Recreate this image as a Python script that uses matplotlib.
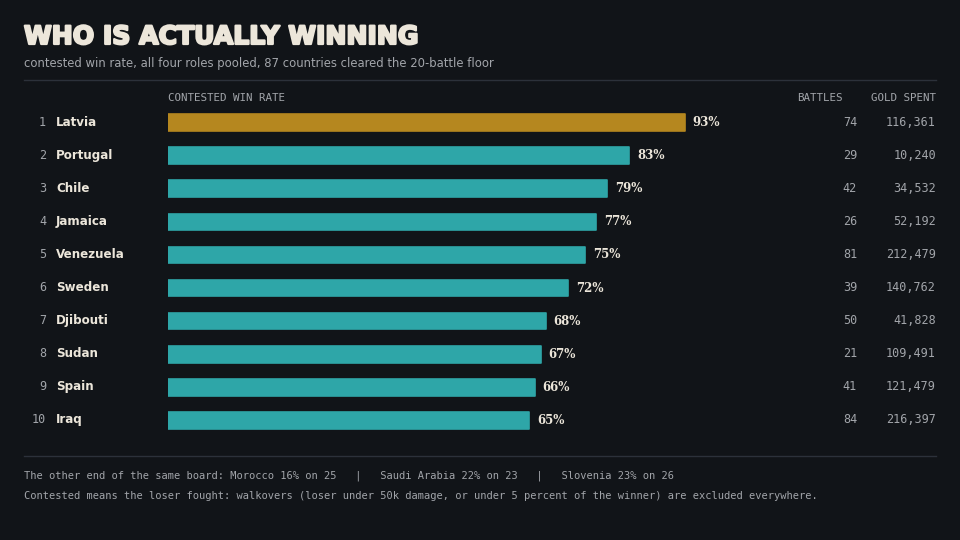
import matplotlib.pyplot as plt
import matplotlib.patheffects as pe

# ------------------Data------------------
countries = ['Latvia', 'Portugal', 'Chile', 'Jamaica', 'Venezuela',
             'Sweden', 'Djibouti', 'Sudan', 'Spain', 'Iraq']
win_rate = [93, 83, 79, 77, 75, 72, 68, 67, 66, 65]
battles = [74, 29, 42, 26, 81, 39, 50, 21, 41, 84]
gold_spent = [116361, 10240, 34532, 52192, 212479, 140762, 41828, 109491, 121479, 216397]

title = 'WHO IS ACTUALLY WINNING'
subtitle = 'contested win rate, all four roles pooled, 87 countries cleared the 20-battle floor'
footer_1 = ('The other end of the same board: Morocco 16% on 25   |   '
            'Saudi Arabia 22% on 23   |   Slovenia 23% on 26')
footer_2 = ('Contested means the loser fought: walkovers (loser under 50k damage, '
            'or under 5 percent of the winner) are excluded everywhere.')

# ------------------Style------------------
bg = '#111418'
txt = '#ECE6DA'
grey = '#A2A5AA'
rule = '#2C313A'
gold = '#B5871F'
teal = '#2EA6A8'
mono = 'DejaVu Sans Mono'

W, H = 960, 540
fig = plt.figure(figsize=(9.6, 5.4), dpi=100)
fig.patch.set_facecolor(bg)


def px(x, y):
    # pixel coords (top-left origin) -> figure fraction
    return x / W, 1 - y / H


# bar axes: 0..100 maps to x 168..724, rows centred at 122.5 + 33*i
ax = fig.add_axes([168 / W, 1 - 437 / H, (724 - 168) / W, (437 - 106) / H])
ax.set_facecolor(bg)
ax.set_xlim(0, 100)
ax.set_ylim(len(countries) - 0.5, -0.5)
ax.axis('off')

colors = [gold] + [teal] * (len(countries) - 1)
rows = list(range(len(countries)))
ax.barh(rows, win_rate, height=0.5, color=colors, edgecolor=colors,
        linewidth=1.2, joinstyle='round')

for i, v in enumerate(win_rate):
    ax.annotate(f'{v}%', (v, i), xytext=(5.5, 0), textcoords='offset points',
                ha='left', va='center', color=txt, fontsize=8.5,
                family='DejaVu Serif', weight='bold')

# row labels and table columns
for i, (name, b, g) in enumerate(zip(countries, battles, gold_spent)):
    y = 122.5 + 33 * i
    fig.text(*px(46, y), str(i + 1), ha='right', va='center', color=grey,
             fontsize=8.5, family=mono)
    fig.text(*px(56, y), name, ha='left', va='center', color=txt,
             fontsize=8.6, weight='bold')
    fig.text(*px(857, y), str(b), ha='right', va='center', color=grey,
             fontsize=8.5, family=mono)
    fig.text(*px(936, y), f'{g:,}', ha='right', va='center', color=grey,
             fontsize=8.5, family=mono)

# headers
fig.text(*px(168, 98), 'CONTESTED WIN RATE', ha='left', va='center',
         color=grey, fontsize=7.8, family=mono)
fig.text(*px(843, 98), 'BATTLES', ha='right', va='center',
         color=grey, fontsize=7.8, family=mono)
fig.text(*px(936, 98), 'GOLD SPENT', ha='right', va='center',
         color=grey, fontsize=7.8, family=mono)

# title block
fig.text(*px(24, 37), title, ha='left', va='center', color=txt,
         fontsize=18.1, weight='heavy',
         path_effects=[pe.withStroke(linewidth=1.6, foreground=txt)])
fig.text(*px(24, 63), subtitle, ha='left', va='center', color=grey,
         fontsize=8.4)

# rules
for y in (80, 456):
    fig.add_artist(plt.Line2D([24 / W, 936 / W], [1 - y / H, 1 - y / H],
                              color=rule, linewidth=1))

# footer
fig.text(*px(24, 476), footer_1, ha='left', va='center', color=grey,
         fontsize=7.5, family=mono)
fig.text(*px(24, 496), footer_2, ha='left', va='center', color=grey,
         fontsize=7.5, family=mono)

fig.savefig('out.png', dpi=100, facecolor=bg)
